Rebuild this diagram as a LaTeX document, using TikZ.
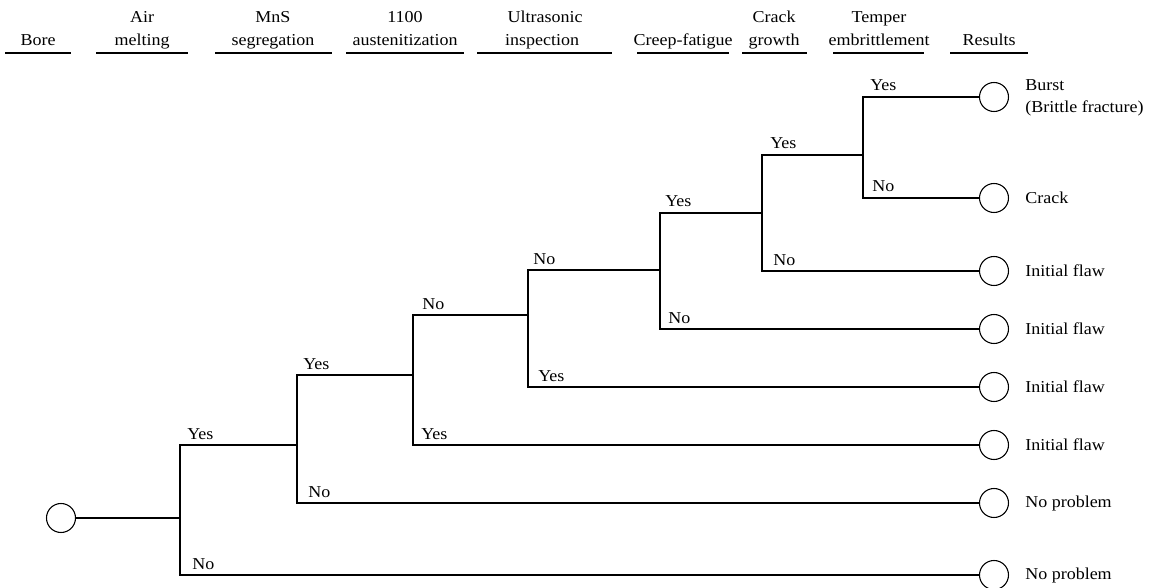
\documentclass[tikz,border=0pt]{standalone}
\usepackage{fontspec}
\setmainfont{Liberation Serif}[FakeStretch=1.08]
\usetikzlibrary{calc}
\begin{document}
\begin{tikzpicture}[x=0.75pt,y=-0.75pt,
  every node/.style={font=\fontsize{12.5}{15}\selectfont, inner sep=0pt},
  hd/.style={anchor=base},
  uline/.style={line width=1.5pt},
  thk/.style={line width=1.5pt},
  thn/.style={line width=0.8pt},
  res/.style={draw, circle, line width=0.8pt, minimum size=21.75pt, inner sep=0pt},
  lbl/.style={anchor=base west},
  outtxt/.style={anchor=west, align=left, font=\fontsize{12.5}{16.5}\selectfont}
]
\useasboundingbox (0,0) rectangle (1153,588);

% ---------- header ----------
\node[hd] (hBore)  at (38,46)  {Bore};
\node[hd] (hAirA)  at (142,23) {Air};
\node[hd] (hAirB)  at (142,46) {melting};
\node[hd] (hMnSA)  at (273,23) {MnS};
\node[hd] (hMnSB)  at (273,46) {segregation};
\node[hd] (hAusA)  at (405,23) {1100};
\node[hd] (hAusB)  at (405,46) {austenitization};
\node[hd] (hUltA)  at (545,23) {Ultrasonic};
\node[hd] (hUltB)  at (542,46) {inspection};
\node[hd] (hCre)   at (683,46) {Creep-fatigue};
\node[hd] (hCraA)  at (774,23) {Crack};
\node[hd] (hCraB)  at (774,46) {growth};
\node[hd] (hTemA)  at (879,23) {Temper};
\node[hd] (hTemB)  at (879,46) {embrittlement};
\node[hd] (hRes)   at (989,46) {Results};

\draw[uline] (5,53)   -- (71,53);
\draw[uline] (96,53)  -- (188,53);
\draw[uline] (215,53) -- (332,53);
\draw[uline] (346,53) -- (464,53);
\draw[uline] (477,53) -- (612,53);
\draw[uline] (637,53) -- (729,53);
\draw[uline] (742,53) -- (807,53);
\draw[uline] (833,53) -- (924,53);
\draw[uline] (950,53) -- (1028,53);

% ---------- tree ----------
\node[res] (r0) at (61,518) {};

\coordinate (b1)  at (180,518);
\coordinate (b1y) at (180,445);
\coordinate (b1n) at (180,575);
\coordinate (b2)  at (297,445);
\coordinate (b2y) at (297,375);
\coordinate (b2n) at (297,503);
\coordinate (b3)  at (413,375);
\coordinate (b3n) at (413,315);
\coordinate (b3y) at (413,445);
\coordinate (b4)  at (528,315);
\coordinate (b4n) at (528,270);
\coordinate (b4y) at (528,387);
\coordinate (b5)  at (660,270);
\coordinate (b5y) at (660,213);
\coordinate (b5n) at (660,329);
\coordinate (b6)  at (762,213);
\coordinate (b6y) at (762,155);
\coordinate (b6n) at (762,271);
\coordinate (b7)  at (863,155);
\coordinate (b7y) at (863,97);
\coordinate (b7n) at (863,198);

\node[res] (e1) at (994,97)  {};
\node[res] (e2) at (994,198) {};
\node[res] (e3) at (994,271) {};
\node[res] (e4) at (994,329) {};
\node[res] (e5) at (994,387) {};
\node[res] (e6) at (994,445) {};
\node[res] (e7) at (994,503) {};
\node[res] (e8) at (994,575) {};

\node[outtxt] (t1) at (1025,98)  {Burst\\(Brittle fracture)};
\node[outtxt] (t2) at (1025,198) {Crack};
\node[outtxt] (t3) at (1025,271) {Initial flaw};
\node[outtxt] (t4) at (1025,329) {Initial flaw};
\node[outtxt] (t5) at (1025,387) {Initial flaw};
\node[outtxt] (t6) at (1025,445) {Initial flaw};
\node[outtxt] (t7) at (1025,503) {No problem};
\node[outtxt] (t8) at (1025,575) {No problem};

\draw[thk] (r0) -- (b1);
\draw[thk,line cap=rect] (b1y) -- (b1n);
\draw[thn] (b1y) -- (b2);
\draw[thn] (b1n) -- (e8);
\draw[thk,line cap=rect] (b2y) -- (b2n);
\draw[thk] (b2y) -- (b3);
\draw[thk] (b2n) -- (e7);
\draw[thn,line cap=rect] (b3n) -- (b3y);
\draw[thn] (b3y) -- (e6);
\draw[thk] (b3n) -- (b4);
\draw[thn,line cap=rect] (b4n) -- (b4y);
\draw[thn] (b4y) -- (e5);
\draw[thk] (b4n) -- (b5);
\draw[thk,line cap=rect] (b5y) -- (b5n);
\draw[thk] (b5n) -- (e4);
\draw[thk] (b5y) -- (b6);
\draw[thk,line cap=rect] (b6y) -- (b6n);
\draw[thk] (b6n) -- (e3);
\draw[thk] (b6y) -- (b7);
\draw[thn,line cap=rect] (b7y) -- (b7n);
\draw[thk] (b7y) -- (e1);
\draw[thn] (b7n) -- (e2);

% ---------- branch labels ----------
\node[lbl] (l1y) at ($(b1y)+(7,-6)$)  {Yes};
\node[lbl] (l1n) at ($(b1n)+(12,-6)$) {No};
\node[lbl] (l2y) at ($(b2y)+(6,-6)$)  {Yes};
\node[lbl] (l2n) at ($(b2n)+(11,-6)$) {No};
\node[lbl] (l3n) at ($(b3n)+(9,-6)$)  {No};
\node[lbl] (l3y) at ($(b3y)+(8,-6)$)  {Yes};
\node[lbl] (l4n) at ($(b4n)+(5,-6)$)  {No};
\node[lbl] (l4y) at ($(b4y)+(10,-6)$) {Yes};
\node[lbl] (l5y) at ($(b5y)+(5,-6)$)  {Yes};
\node[lbl] (l5n) at ($(b5n)+(8,-6)$)  {No};
\node[lbl] (l6y) at ($(b6y)+(8,-6)$)  {Yes};
\node[lbl] (l6n) at ($(b6n)+(11,-6)$) {No};
\node[lbl] (l7y) at ($(b7y)+(7,-6)$)  {Yes};
\node[lbl] (l7n) at ($(b7n)+(9,-6)$)  {No};
\end{tikzpicture}
\end{document}
